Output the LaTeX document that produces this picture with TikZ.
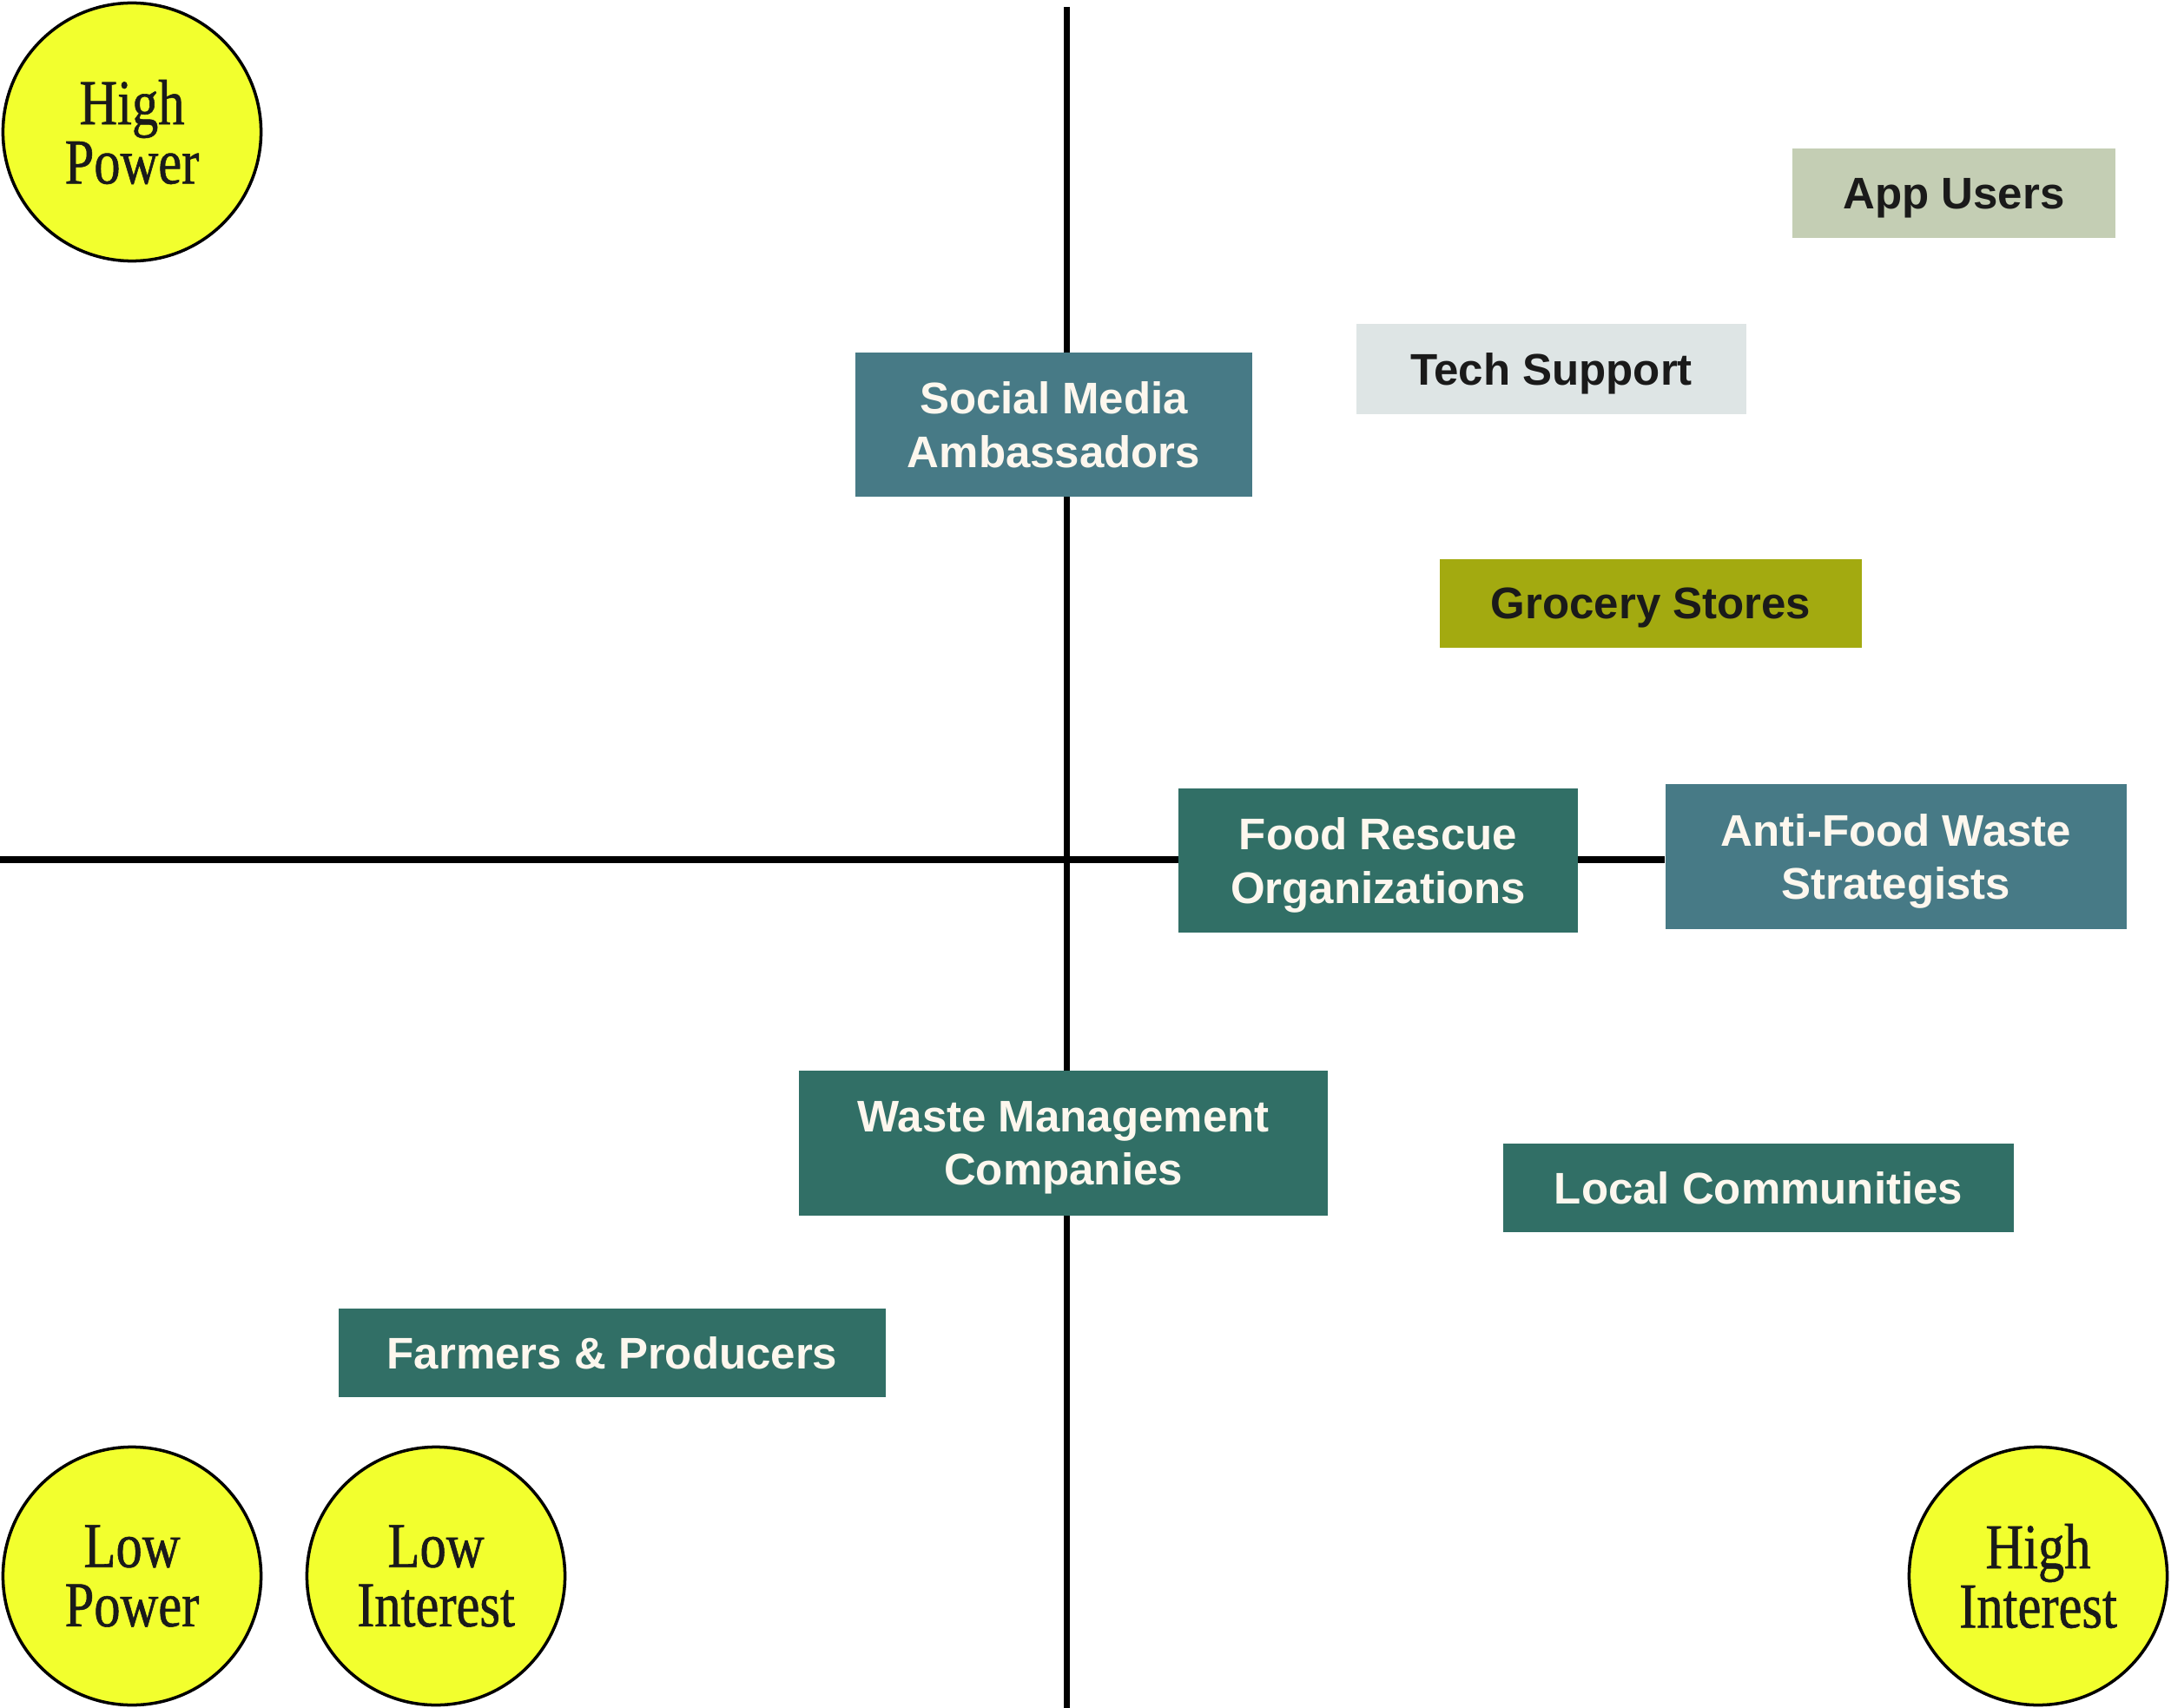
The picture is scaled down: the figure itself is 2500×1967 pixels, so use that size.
\documentclass[tikz,border=0pt]{standalone}
\usepackage{fontspec}
\setmainfont{Liberation Sans}
\newfontfamily\polefont[FakeStretch=0.82,FakeBold=0.8]{Liberation Serif}
\definecolor{poleyellow}{HTML}{F2FF2E}
\definecolor{ink}{HTML}{1A1A1A}
\definecolor{cream}{HTML}{FDF7EE}
\definecolor{sage}{HTML}{C4CEB4}
\definecolor{mist}{HTML}{DEE5E5}
\definecolor{steel}{HTML}{477A86}
\definecolor{olive}{HTML}{A3AA10}
\definecolor{pine}{HTML}{316F66}
\begin{document}
\begin{tikzpicture}[x=0.01cm,y=-0.01cm,
    axis/.style={line width=2pt},
    box/.style={rectangle, inner sep=0pt, align=center, text=cream, text depth=0pt,
        font=\bfseries\fontsize{14.5}{17.6}\selectfont},
    pole/.style={circle, draw=black, line width=1pt, fill=poleyellow,
        minimum size=2.97cm, inner sep=0pt, align=center, text=ink,
        font=\polefont\fontsize{21}{19.4}\selectfont}]
    \useasboundingbox (0,0) rectangle (2500,1967);

    % stakeholders
    \node[box, fill=sage, text=ink, minimum width=3.72cm, minimum height=1.03cm] (appusers) at (2250,222.5) {App Users};
    \node[box, fill=mist, text=ink, minimum width=4.48cm, minimum height=1.04cm] (techsupport) at (1786.5,425) {Tech Support};
    \node[box, fill=olive, text=ink, minimum width=4.86cm, minimum height=1.02cm] (grocery) at (1901,695) {Grocery Stores};
    \node[box, fill=steel, minimum width=5.31cm, minimum height=1.67cm] (antiwaste) at (2183.5,986.5) {Anti-Food Waste\\Strategists};
    \node[box, fill=pine, minimum width=5.87cm, minimum height=1.02cm] (localcomm) at (2025,1368) {Local Communities};
    \node[box, fill=pine, minimum width=6.3cm, minimum height=1.02cm] (farmers) at (705,1558) {Farmers \& Producers};

    % axes
    \coordinate (vtop) at (1228,8);
    \coordinate (vbot) at (1228,1967);
    \coordinate (hleft) at (0,990);
    \draw[axis] (vtop) -- (vbot);
    \draw[axis] (hleft) -- (hleft -| antiwaste.west);

    \node[box, fill=steel, minimum width=4.57cm, minimum height=1.66cm] (socialmedia) at (1213.5,489) {Social Media\\Ambassadors};
    \node[box, fill=pine, minimum width=4.6cm, minimum height=1.66cm] (foodrescue) at (1587,991) {Food Rescue\\Organizations};
    \node[box, fill=pine, minimum width=6.09cm, minimum height=1.67cm] (wastemgmt) at (1224.5,1316.5) {Waste Management\\Companies};

    % poles
    \node[pole] (highpower) at (152,152) {High\\Power};
    \node[pole] (lowpower) at (152,1815) {Low\\Power};
    \node[pole] (lowinterest) at (502,1815) {Low\\Interest};
    \node[pole] (highinterest) at (2347,1815) {High\\Interest};
\end{tikzpicture}
\end{document}
